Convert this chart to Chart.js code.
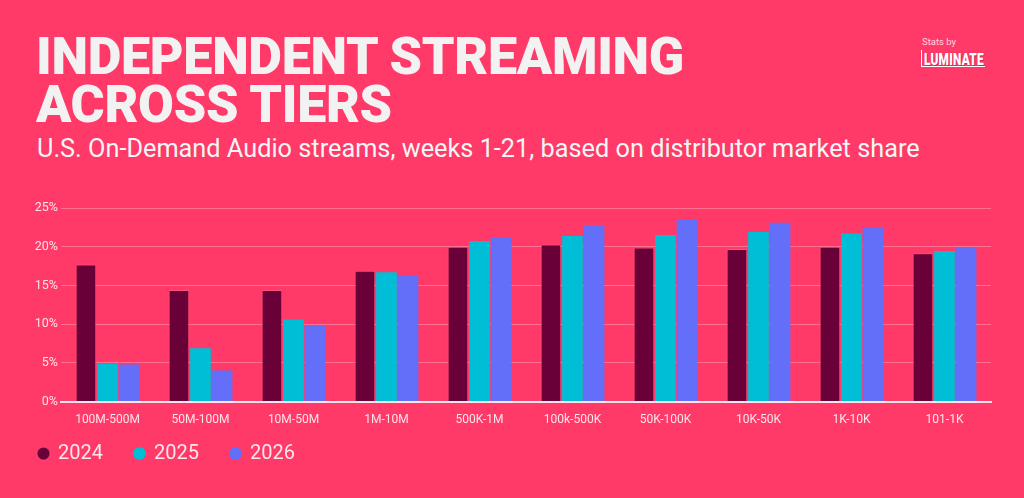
<!DOCTYPE html>
<html>
<head>
<meta charset="utf-8">
<script src="https://cdn.jsdelivr.net/npm/chart.js@4"></script>
<style>
  html, body { margin: 0; padding: 0; }
  body { width: 1024px; height: 498px; background: #FF3968; position: relative; overflow: hidden; font-family: Roboto, "Noto Sans", sans-serif; }
  #title { position: absolute; left: 36px; top: 33px; font-size: 52px; line-height: 48px; font-weight: 900; color: #F2F2F2; letter-spacing: -0.3px; margin: 0; white-space: nowrap; }
  #subtitle { position: absolute; left: 37px; top: 134px; font-size: 25.3px; line-height: 30px; font-weight: 400; color: #F5F5F5; white-space: nowrap; }
  #logo { position: absolute; left: 921px; top: 36px; color: #FFFFFF; }
  #logo .by { font-size: 9.5px; line-height: 11px; color: #FFD6E0; margin-left: 1px; }
  #logo .name { margin-top: 3px; border-left: 1.5px solid #fff; border-bottom: 1.5px solid #fff; padding-left: 2px; height: 17px; width: 64px; box-sizing: border-box; overflow: visible; }
  #logo .name span { display: inline-block; font-size: 16px; line-height: 15px; font-weight: 900; transform: scaleX(0.74); transform-origin: left center; letter-spacing: 0.3px; text-shadow: 1px 1px 0 rgba(120,0,40,0.35); white-space: nowrap; }
  #wrap { position: absolute; left: 0; top: 190px; width: 1024px; height: 310px; }
</style>
</head>
<body>
<div id="title">INDEPENDENT STREAMING<br>ACROSS TIERS</div>
<div id="subtitle">U.S. On-Demand Audio streams, weeks 1-21, based on distributor market share</div>
<div id="logo"><div class="by">Stats by</div><div class="name"><span>LUMINATE</span></div></div>
<div id="wrap"><canvas id="c"></canvas></div>
<script>
const categories = ["100M-500M", "50M-100M", "10M-50M", "1M-10M", "500K-1M", "100k-500K", "50K-100K", "10K-50K", "1K-10K", "101-1K"];
const seriesNames = ["2024", "2025", "2026"];
const values2024 = [17.7, 14.4, 14.4, 16.9, 20.0, 20.3, 19.9, 19.7, 20.0, 19.15];
const values2025 = [4.9, 6.9, 10.6, 16.7, 20.75, 21.4, 21.5, 21.9, 21.7, 19.45];
const values2026 = [4.8, 4.0, 9.8, 16.3, 21.2, 22.7, 23.5, 23.1, 22.5, 19.9];
const yTicks = [0, 5, 10, 15, 20, 25];

const colors = ["#6A0038", "#00BED6", "#636FF8"];
const seriesValues = [values2024, values2025, values2026];

const datasets = seriesNames.map((n, i) => ({
  label: n,
  data: seriesValues[i],
  backgroundColor: colors[i],
  borderColor: i === 0 ? "rgba(255,120,160,0.35)" : colors[i],
  borderWidth: i === 0 ? 1 : 0,
  barPercentage: 0.96,
  categoryPercentage: 0.695
}));

Chart.defaults.font.family = "Roboto, 'Noto Sans', sans-serif";

// Move the legend up so it sits just below the x-axis labels
const legendShift = {
  id: "legendShift",
  afterLayout(chart) {
    const lg = chart.legend;
    if (!lg) return;
    const target = chart.chartArea.bottom + 10;
    const d = lg.top - target;
    lg.top -= d;
    lg.bottom -= d;
  }
};

new Chart(document.getElementById("c"), {
  type: "bar",
  data: { labels: categories, datasets },
  plugins: [legendShift],
  options: {
    responsive: true,
    maintainAspectRatio: false,
    animation: false,
    layout: { padding: { left: 7, right: 33, top: 18, bottom: 0 } },
    plugins: {
      tooltip: { enabled: false },
      legend: {
        position: "bottom",
        align: "start",
        labels: {
          usePointStyle: true,
          pointStyle: "circle",
          boxWidth: 9,
          boxHeight: 9,
          padding: 32,
          color: "#FFE6EC",
          font: { size: 20, family: "Roboto" }
        }
      }
    },
    scales: {
      x: {
        grid: { display: false, drawTicks: false },
        border: { display: true, color: "#FFE3EA", width: 2 },
        ticks: { color: "#FFE3EA", font: { size: 12 }, padding: 11, maxRotation: 0, autoSkip: false }
      },
      y: {
        min: 0, max: 25,
        afterBuildTicks: (s) => { s.ticks = yTicks.map(v => ({ value: v })); },
        grid: { color: "rgba(255,255,255,0.28)", lineWidth: 1, drawTicks: false },
        border: { display: false },
        ticks: { color: "#FFE3EA", font: { size: 12.5 }, padding: 3, callback: (v) => v + "%" },
        afterFit: (s) => { s.width = 54; }
      }
    }
  }
});
</script>
</body>
</html>
